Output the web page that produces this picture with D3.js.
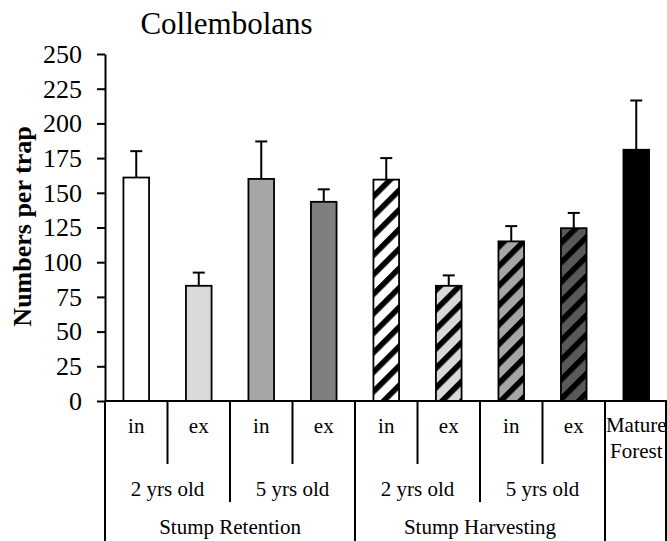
<!DOCTYPE html>
<html>
<head>
<meta charset="utf-8">
<script src="https://cdn.jsdelivr.net/npm/d3@7"></script>
<style>
  html, body { margin: 0; padding: 0; background: #fff; }
  svg { display: block; }
  text { font-family: "Liberation Serif", "Times New Roman", serif; fill: #000; }
</style>
</head>
<body>
<script>
// Collembolan catches per trap, by stump treatment and trap position
const treatments = ["in", "ex", "in", "ex", "in", "ex", "in", "ex", "Mature Forest"];
const ageGroups = ["2 yrs old", "5 yrs old", "2 yrs old", "5 yrs old"];
const methods = ["Stump Retention", "Stump Harvesting"];
const means = [161, 83, 160, 143.5, 159.5, 83, 115, 124.5, 181];
const errors = [19, 9.5, 27, 9, 15.5, 7.5, 11, 11, 35.5];
const yTicks = [0, 25, 50, 75, 100, 125, 150, 175, 200, 225, 250];

// Bar appearance: fill colour and whether a diagonal hatch is laid over it
const barStyle = [
  { fill: "#ffffff", hatch: false },
  { fill: "#d9d9d9", hatch: false },
  { fill: "#a6a6a6", hatch: false },
  { fill: "#7f7f7f", hatch: false },
  { fill: "#ffffff", hatch: true },
  { fill: "#d9d9d9", hatch: true },
  { fill: "#a6a6a6", hatch: true },
  { fill: "#595959", hatch: true },
  { fill: "#000000", hatch: false }
];

const W = 667, H = 541;
const left = 105, right = 667.5, axisY = 401, topY = 54;

const svg = d3.select("body").append("svg")
  .attr("width", W).attr("height", H);

const defs = svg.append("defs");
barStyle.forEach((s, i) => {
  if (!s.hatch) return;
  const p = defs.append("pattern")
    .attr("id", "hatch" + i)
    .attr("patternUnits", "userSpaceOnUse")
    .attr("width", 13.8).attr("height", 20)
    .attr("patternTransform", "rotate(45)");
  p.append("rect").attr("width", 13.8).attr("height", 20).attr("fill", s.fill);
  p.append("rect").attr("x", 0).attr("width", 5.6).attr("height", 20).attr("fill", "#000");
});

const idx = d3.range(treatments.length);
const x = d3.scaleBand().domain(idx).range([left, right]).padding(0);
const y = d3.scaleLinear().domain([0, 250]).range([axisY, topY]);
const bw = x.bandwidth() * 0.41;

// Title
svg.append("text")
  .attr("x", 226.5).attr("y", 33.5)
  .attr("text-anchor", "middle")
  .style("font-size", "31px")
  .text("Collembolans");

// Y axis title
svg.append("text")
  .attr("transform", "translate(31,226.5) rotate(-90)")
  .attr("text-anchor", "middle")
  .style("font-size", "26px").style("font-weight", "bold")
  .text("Numbers per trap");

// Y axis
const yAxis = d3.axisLeft(y).tickValues(yTicks).tickSize(8).tickSizeOuter(0).tickPadding(15);
const gy = svg.append("g").attr("transform", `translate(${left},0)`).call(yAxis);
gy.select(".domain").attr("stroke", "#000").attr("stroke-width", 2);
gy.selectAll(".tick line").attr("stroke", "#000").attr("stroke-width", 2);
gy.selectAll(".tick text")
  .style("font-family", "'Liberation Serif', serif")
  .style("font-size", "26px").attr("fill", "#000");

// Bars
svg.append("g").selectAll("rect").data(idx).join("rect")
  .attr("x", i => x(i) + (x.bandwidth() - bw) / 2)
  .attr("y", i => y(means[i]))
  .attr("width", bw)
  .attr("height", i => y(0) - y(means[i]))
  .attr("fill", i => barStyle[i].hatch ? `url(#hatch${i})` : barStyle[i].fill)
  .attr("stroke", "#000").attr("stroke-width", 1.8);

// Error bars (upper only)
const cap = 12;
const eg = svg.append("g").attr("stroke", "#000").attr("stroke-width", 2);
idx.forEach(i => {
  const cx = x(i) + x.bandwidth() / 2;
  eg.append("line").attr("x1", cx).attr("x2", cx)
    .attr("y1", y(means[i])).attr("y2", y(means[i] + errors[i]));
  eg.append("line").attr("x1", cx - cap / 2).attr("x2", cx + cap / 2)
    .attr("y1", y(means[i] + errors[i])).attr("y2", y(means[i] + errors[i]));
});

// Category table below the axis
const tg = svg.append("g").attr("stroke", "#000").attr("stroke-width", 2);
tg.append("line").attr("x1", left).attr("x2", W).attr("y1", axisY).attr("y2", axisY);

const row1Bottom = 464, row2Bottom = 502;
const boundaries = d3.range(treatments.length + 1).map(k => k < treatments.length ? x(k) : right - 1.5);
boundaries.forEach((bx, k) => {
  let y2;
  if (k === 0 || k === 4 || k === 8 || k === 9) y2 = H;
  else if (k % 2 === 1) y2 = row1Bottom;
  else y2 = row2Bottom;
  tg.append("line").attr("x1", bx).attr("x2", bx).attr("y1", axisY).attr("y2", y2);
});

const labels = svg.append("g").attr("text-anchor", "middle").style("font-size", "21px");
treatments.forEach((t, i) => {
  const cx = x(i) + x.bandwidth() / 2;
  if (i < 8) {
    labels.append("text").attr("x", cx).attr("y", 433).text(t);
  } else {
    const words = t.split(" ");
    labels.append("text").attr("x", cx).attr("y", 432).text(words[0]);
    labels.append("text").attr("x", cx).attr("y", 458).text(words[1]);
  }
});
ageGroups.forEach((a, j) => {
  const cx = x(j * 2) + x.bandwidth();
  labels.append("text").attr("x", cx).attr("y", 496).text(a);
});
methods.forEach((m, j) => {
  const cx = x(j * 4) + x.bandwidth() * 2;
  labels.append("text").attr("x", cx).attr("y", 534).text(m);
});
</script>
</body>
</html>
